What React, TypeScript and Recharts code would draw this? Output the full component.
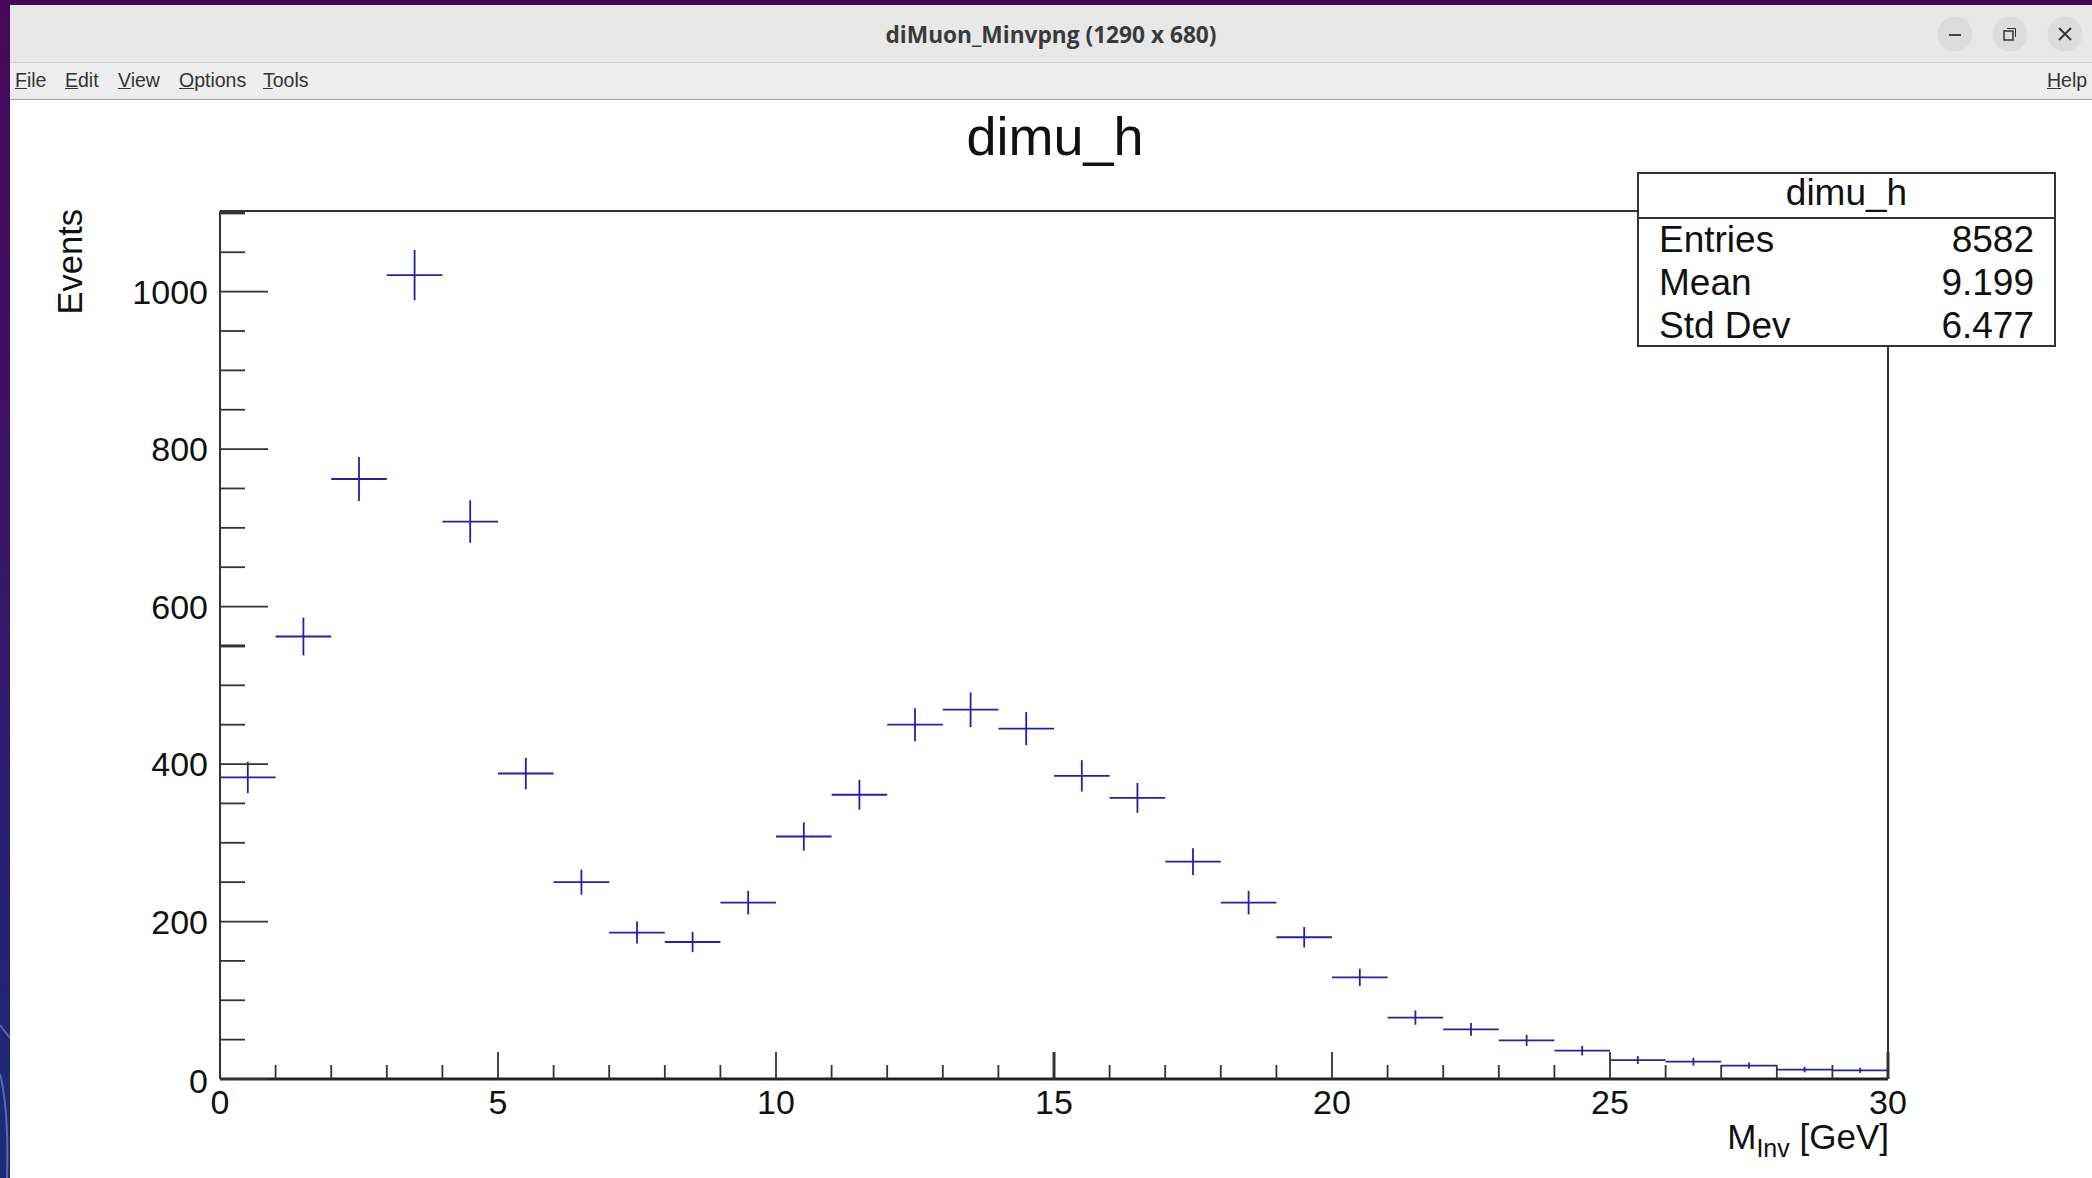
import React from "react";
import { ScatterChart, Scatter, XAxis, YAxis, ErrorBar, ReferenceLine } from "recharts";

const binCenters = [0.5,1.5,2.5,3.5,4.5,5.5,6.5,7.5,8.5,9.5,10.5,11.5,12.5,13.5,14.5,15.5,16.5,17.5,18.5,19.5,20.5,21.5,22.5,23.5,24.5,25.5,26.5,27.5,28.5,29.5];
const events = [383,562,762,1021,708,388,250,186,174,224,308,361,450,469,445,385,357,276,224,180,129,78,63,49,36,24,22,17,12,11];
const eventErrors = [20,24,28,32,27,20,16,14,13,15,18,19,21,22,21,20,19,17,15,13,11,9,8,7,6,5,5,4,3.5,3.3];
const binHalfWidths = binCenters.map(() => 0.5);
const xTicks = [0,1,2,3,4,5,6,7,8,9,10,11,12,13,14,15,16,17,18,19,20,21,22,23,24,25,26,27,28,29,30];
const yTicks = [0,50,100,150,200,250,300,350,400,450,500,550,600,650,700,750,800,850,900,950,1000,1050,1100];
const menuItems = ["File","Edit","View","Options","Tools"];
const menuLefts = [15,65,118,179,263];
const statRows = [["Entries","8582"],["Mean","9.199"],["Std Dev","6.477"]];

const data = binCenters.map((x, i) => ({ x, y: events[i], ex: binHalfWidths[i], ey: eventErrors[i] }));

const FONT = "'Liberation Sans', Arial, sans-serif";
const AXIS = "#333333";
const BLUE = "#2222a4";
const Y_MAX = 1102.4;

const XTick = (p: any) => {
  const v = p.payload.value;
  const major = v % 5 === 0;
  const len = major ? 27 : 14;
  return (
    <g>
      <line x1={p.x} x2={p.x} y1={p.y} y2={p.y - len} stroke={AXIS} strokeWidth={v === 15 || v === 30 ? 3 : 1.8} />
      {major && (
        <text x={p.x} y={1114} textAnchor="middle" fontFamily={FONT} fontSize={34} fill="#111">{v}</text>
      )}
    </g>
  );
};

const YTick = (p: any) => {
  const v = p.payload.value;
  const major = v % 200 === 0;
  const len = major ? 48 : 25;
  return (
    <g>
      <line x1={p.x} x2={p.x + len} y1={p.y} y2={p.y} stroke={AXIS} strokeWidth={v === 550 || v === 1100 ? 3 : 1.8} />
      {major && (
        <text x={208} y={p.y + (v === 0 ? 14 : 12)} textAnchor="end" fontFamily={FONT} fontSize={34} fill="#111">{v}</text>
      )}
    </g>
  );
};

const XTitle = () => (
  <text x={1889} y={1149} textAnchor="end" fontFamily={FONT} fontSize={35} fill="#111">
    M<tspan fontSize={25} dy={8}>Inv</tspan><tspan dy={-8}> [GeV]</tspan>
  </text>
);

const YTitle = () => (
  <text transform="translate(82,209) rotate(-90)" textAnchor="end" fontFamily={FONT} fontSize={34.5} fill="#111">Events</text>
);

const abs = (left: number, top: number, width: number, height: number, extra: React.CSSProperties = {}): React.CSSProperties => ({
  position: "absolute", left, top, width, height, ...extra,
});

const WinButton = ({ cx, children }: { cx: number; children: React.ReactNode }) => (
  <svg style={abs(cx - 18, 16, 36, 36)} viewBox="0 0 36 36">
    <circle cx={18} cy={18} r={17.5} fill="#dcdcdc" />
    {children}
  </svg>
);

export default function App() {
  return (
    <div style={abs(0, 0, 2092, 1178, { overflow: "hidden", background: "linear-gradient(180deg,#46085a 0%,#3f1066 35%,#2a1f72 70%,#1a2c76 100%)" })}>
      <svg style={abs(0, 1000, 10, 178)} viewBox="0 0 10 178">
        <path d="M0 25L10 38M0 74Q9 110 7 178" fill="none" stroke="#5a6aa8" strokeWidth={2} />
      </svg>
      <div style={abs(10, 5, 2082, 1173, { background: "#fff" })} />
      <div style={abs(10, 5, 2082, 58, { background: "#e8e8e8", borderBottom: "1.5px solid #cfcfcf", boxSizing: "border-box" })} />
      <div style={abs(10, 63, 2082, 37, { background: "#ededed", borderBottom: "1.5px solid #a0a0a0", boxSizing: "border-box" })} />
      <div style={abs(0, 17, 2102, 36, { textAlign: "center", font: "bold 22.7px 'Open Sans', 'Noto Sans', sans-serif", color: "#3a3a3a", lineHeight: "36px" })}>
        diMuon_Minvpng (1290 x 680)
      </div>
      {menuItems.map((m, i) => (
        <div key={m} style={abs(menuLefts[i], 67, 80, 26, { font: "19.5px 'Liberation Sans', sans-serif", color: "#333", lineHeight: "26px" })}>
          <span style={{ textDecoration: "underline" }}>{m[0]}</span>{m.slice(1)}
        </div>
      ))}
      <div style={abs(2047, 67, 44, 26, { font: "19.5px 'Liberation Sans', sans-serif", color: "#333", lineHeight: "26px" })}>
        <span style={{ textDecoration: "underline" }}>H</span>elp
      </div>
      <WinButton cx={1955}><line x1={12} x2={24} y1={19} y2={19} stroke="#333" strokeWidth={1.8} /></WinButton>
      <WinButton cx={2010}>
        <rect x={12} y={15} width={9} height={9} fill="none" stroke="#333" strokeWidth={1.5} />
        <path d="M15 12.5H23.5V21" fill="none" stroke="#333" strokeWidth={1} />
      </WinButton>
      <WinButton cx={2065}><path d="M12 12L24 24M24 12L12 24" stroke="#333" strokeWidth={1.8} /></WinButton>

      <div style={abs(0, 0, 2092, 1178)}>
        <ScatterChart width={2092} height={1178} margin={{ top: 211, right: 204, bottom: 0, left: 0 }}>
          <XAxis type="number" dataKey="x" domain={[0, 30]} ticks={xTicks} interval={0} height={99} tickSize={0} tickMargin={0} axisLine={{ stroke: "#222", strokeWidth: 3 }} tickLine={false} tick={<XTick />} label={<XTitle />} allowDataOverflow />
          <YAxis type="number" dataKey="y" domain={[0, Y_MAX]} ticks={yTicks} interval={0} width={220} tickSize={0} tickMargin={0} axisLine={{ stroke: AXIS, strokeWidth: 2 }} tickLine={false} tick={<YTick />} label={<YTitle />} allowDataOverflow />
          <ReferenceLine y={Y_MAX} stroke={AXIS} strokeWidth={2} />
          <ReferenceLine x={30} stroke={AXIS} strokeWidth={2} />
          <Scatter data={data} isAnimationActive={false} shape={() => <g />}>
            <ErrorBar dataKey="ex" direction="x" width={0} stroke={BLUE} strokeWidth={1.8} isAnimationActive={false} />
            <ErrorBar dataKey="ey" direction="y" width={0} stroke={BLUE} strokeWidth={1.8} isAnimationActive={false} />
          </Scatter>
        </ScatterChart>
      </div>

      <div style={abs(725, 105, 660, 62, { textAlign: "center", font: `54px ${FONT}`, color: "#111", lineHeight: "62px" })}>dimu_h</div>

      <div style={abs(1637, 172, 419, 175, { background: "#fff", border: "2px solid #333", boxSizing: "border-box", fontFamily: FONT, color: "#111" })}>
        <div style={{ height: 43, borderBottom: "2px solid #333", textAlign: "center", fontSize: 37, lineHeight: "38px" }}>dimu_h</div>
        {statRows.map(([k, v]) => (
          <div key={k} style={{ display: "flex", justifyContent: "space-between", padding: "0 20px", height: 43, fontSize: 37, lineHeight: "41px" }}>
            <span>{k}</span><span>{v}</span>
          </div>
        ))}
      </div>
    </div>
  );
}
